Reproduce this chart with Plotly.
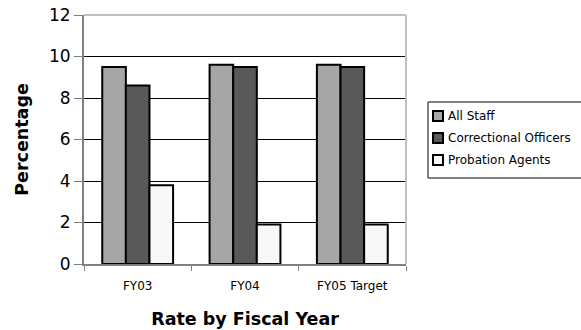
import plotly.graph_objects as go

categories = ["FY03", "FY04", "FY05 Target"]
all_staff = [9.5, 9.6, 9.6]
correctional_officers = [8.6, 9.5, 9.5]
probation_agents = [3.8, 1.9, 1.9]
series_names = ["All Staff", "Correctional Officers", "Probation Agents"]
series_colors = ["#A6A6A6", "#595959", "#F8F8F8"]
y_ticks = [0, 2, 4, 6, 8, 10, 12]

FONT = "DejaVu Sans, sans-serif"

# plot area in pixels (for legend placement conversions)
L, R, T, B = 84, 406, 15, 264
def px_x(px):
    return (px - L) / (R - L)
def px_y(py):
    return (B - py) / (B - T)

fig = go.Figure()
for name, vals, col in zip(series_names, [all_staff, correctional_officers, probation_agents], series_colors):
    fig.add_trace(go.Bar(
        x=categories, y=vals, name=name,
        marker=dict(color=col, line=dict(color="black", width=2)),
    ))

fig.update_layout(
    width=581, height=330,
    margin=dict(l=L, r=581 - R, t=T, b=330 - B),
    paper_bgcolor="white", plot_bgcolor="white",
    barmode="group", bargap=0.34, bargroupgap=0,
    font=dict(family=FONT, color="black"),
    showlegend=False,
    xaxis=dict(
        title=dict(text="<b>Rate by Fiscal Year</b>", font=dict(size=17.5), standoff=20),
        tickfont=dict(size=12),
        showline=True, linecolor="#808080", linewidth=2,
        ticks="outside", tickson="boundaries", ticklen=5, tickcolor="#808080", tickwidth=1,
        ticklabelstandoff=10,
        showgrid=False, automargin=False,
    ),
    yaxis=dict(
        title=dict(text="<b>Percentage</b>", font=dict(size=17.5), standoff=16),
        range=[0, 12], tickvals=y_ticks, tickfont=dict(size=17),
        showline=True, linecolor="#808080", linewidth=2,
        ticks="outside", ticklen=8, tickcolor="#808080", tickwidth=1,
        showgrid=True, gridcolor="black", gridwidth=1,
        zeroline=False, automargin=False,
    ),
)

# light gray top/right border of the plot area
fig.add_shape(type="line", xref="paper", yref="paper", x0=0, x1=1, y0=1, y1=1,
              line=dict(color="#C0C0C0", width=2), layer="above")
fig.add_shape(type="line", xref="paper", yref="paper", x0=1, x1=1, y0=0, y1=1,
              line=dict(color="#C0C0C0", width=2), layer="above")

# legend box (drawn manually to match the compact symbol/text spacing)
fig.add_shape(type="rect", xref="paper", yref="paper",
              x0=px_x(428), x1=px_x(583), y0=px_y(178), y1=px_y(102),
              line=dict(color="black", width=1), fillcolor="white", layer="above")
for i, (name, col) in enumerate(zip(series_names, series_colors)):
    cy = 116 + 22 * i
    fig.add_shape(type="rect", xref="paper", yref="paper",
                  x0=px_x(433), x1=px_x(443), y0=px_y(cy + 5), y1=px_y(cy - 5),
                  line=dict(color="black", width=2), fillcolor=col, layer="above")
    fig.add_annotation(xref="paper", yref="paper", x=px_x(446), y=px_y(cy),
                       xanchor="left", yanchor="middle", showarrow=False,
                       text=name, font=dict(size=12, family=FONT, color="black"))

fig.write_html("out.html")
